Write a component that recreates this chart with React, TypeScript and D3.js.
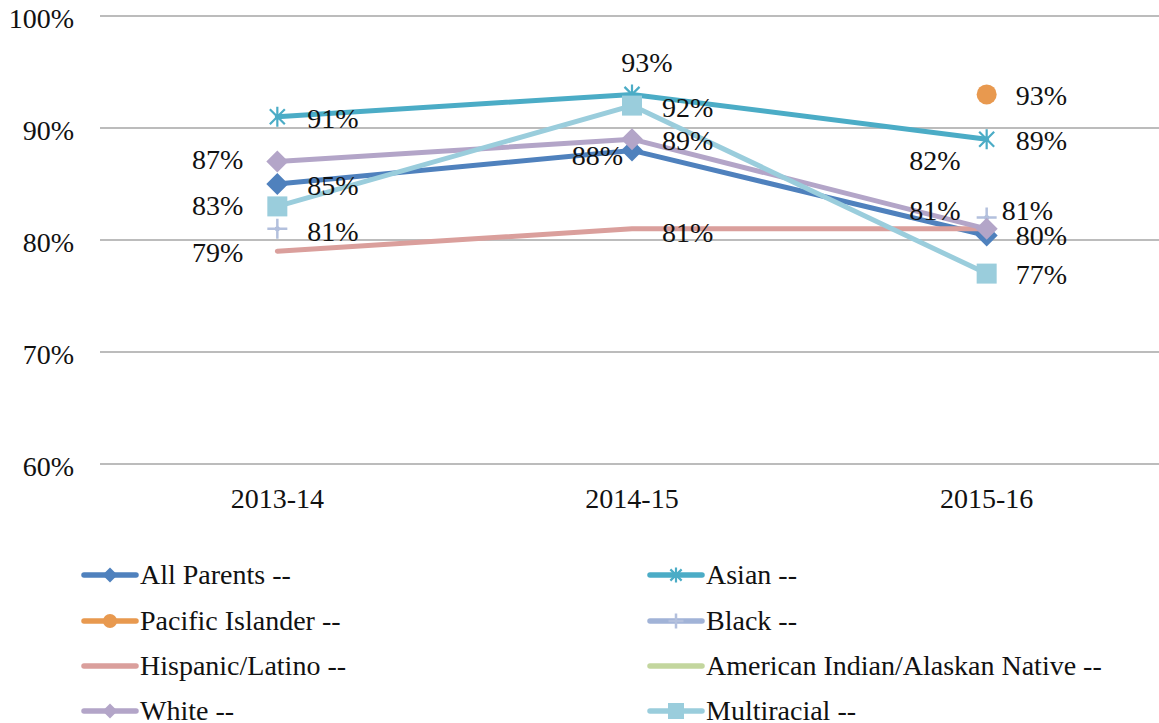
import React from "react";
import * as d3 from "d3";

// Chart data
const years = ["2013-14", "2014-15", "2015-16"];
const yTicks = [60, 70, 80, 90, 100];

const allParents = [85, 88, 80.4];
const asian = [91, 93, 89];
const pacificIslander = [null, null, 93];
const black = [81, null, 82];
const hispanic = [79, 81, 81];
const americanIndian = [null, null, null];
const white = [87, 89, 81];
const multiracial = [83, 92, 77];

type Marker = "diamond" | "asterisk" | "circle" | "plus" | "square" | "none";

// label offsets per point: [dx, dy, anchor]
type Place = [number, number, string] | null;

const series: {
  name: string;
  values: (number | null)[];
  color: string;
  markerColor: string;
  marker: Marker;
  places: Place[];
}[] = [
  {
    name: "All Parents --",
    values: allParents,
    color: "#4F81BD",
    markerColor: "#4F81BD",
    marker: "diamond",
    places: [[30, 11, "start"], [-9, 15, "end"], [29, 9, "start"]],
  },
  {
    name: "Asian --",
    values: asian,
    color: "#4BACC6",
    markerColor: "#4BACC6",
    marker: "asterisk",
    places: [[30, 11, "start"], [15, -22, "middle"], [29, 11, "start"]],
  },
  {
    name: "Pacific Islander --",
    values: pacificIslander,
    color: "#E8994F",
    markerColor: "#E8994F",
    marker: "circle",
    places: [null, null, [29, 11, "start"]],
  },
  {
    name: "Black --",
    values: black,
    color: "#A1B3D7",
    markerColor: "#B3C0DD",
    marker: "plus",
    places: [[30, 12, "start"], null, [-26, -48, "end"]],
  },
  {
    name: "Hispanic/Latino --",
    values: hispanic,
    color: "#DA9F9C",
    markerColor: "#DA9F9C",
    marker: "none",
    places: [[-34, 11, "end"], [30, 13, "start"], [15, -9, "start"]],
  },
  {
    name: "American Indian/Alaskan Native --",
    values: americanIndian,
    color: "#C3D69E",
    markerColor: "#C3D69E",
    marker: "none",
    places: [null, null, null],
  },
  {
    name: "White --",
    values: white,
    color: "#B3A5C8",
    markerColor: "#B3A5C8",
    marker: "diamond",
    places: [[-34, 7, "end"], [30, 11, "start"], [-26, -9, "end"]],
  },
  {
    name: "Multiracial --",
    values: multiracial,
    color: "#9ACDDC",
    markerColor: "#9ACDDC",
    marker: "square",
    places: [[-34, 9, "end"], [30, 11, "start"], [29, 10, "start"]],
  },
];

const width = 1159;
const height = 723;
const font = "Liberation Serif";
const fontSize = 28;

const x = d3.scalePoint<string>().domain(years).range([100, 1164]).padding(0.5);
const y = d3.scaleLinear().domain([60, 100]).range([464, 16]);
const pct = d3.format(".0f");

function MarkerShape({ kind, color, size }: { kind: Marker; color: string; size: number }) {
  const h = size / 2;
  if (kind === "diamond")
    return <path d={`M0,${-h}L${h},0L0,${h}L${-h},0Z`} fill={color} />;
  if (kind === "square")
    return <rect x={-h} y={-h} width={size} height={size} fill={color} />;
  if (kind === "circle") return <circle r={h} fill={color} />;
  if (kind === "plus")
    return (
      <path d={`M0,${-h}V${h}M${-h},0H${h}`} stroke={color} strokeWidth={2.5} fill="none" />
    );
  if (kind === "asterisk") {
    const d = h * 0.75;
    return (
      <path
        d={`M0,${-h}V${h}M${-d},${-d}L${d},${d}M${d},${-d}L${-d},${d}`}
        stroke={color}
        strokeWidth={2.2}
        fill="none"
      />
    );
  }
  return null;
}

const App = () => {
  const line = d3
    .line<number | null>()
    .defined((d) => d !== null)
    .x((_, i) => x(years[i]) as number)
    .y((d) => y(d as number));

  const legendRows = [575, 621, 666, 711];
  const legendCols = [82, 648];

  return (
    <svg
      width={width}
      height={height}
      style={{ position: "absolute", left: 0, top: 0, background: "#fff", fontFamily: font }}
    >
      {/* gridlines */}
      {yTicks.map((t) => (
        <g key={t}>
          <line x1={100} x2={width} y1={y(t)} y2={y(t)} stroke="#A6A6A6" strokeWidth={1.5} />
          <text x={74} y={y(t) + 12} textAnchor="end" fontSize={fontSize} fill="#111">
            {t}%
          </text>
        </g>
      ))}

      {/* x labels */}
      {years.map((yr) => (
        <text key={yr} x={x(yr)} y={508} textAnchor="middle" fontSize={fontSize} fill="#111">
          {yr}
        </text>
      ))}

      {/* series */}
      {series.map((s) => (
        <g key={s.name}>
          <path
            d={line(s.values) || ""}
            fill="none"
            stroke={s.color}
            strokeWidth={5}
            strokeLinejoin="round"
            strokeLinecap="round"
          />
          {s.values.map((v, i) =>
            v === null ? null : (
              <g key={i} transform={`translate(${x(years[i])},${y(v)})`}>
                <MarkerShape kind={s.marker} color={s.markerColor} size={s.marker === "diamond" ? 22 : 20} />
              </g>
            )
          )}
        </g>
      ))}

      {/* data labels */}
      {series.map((s) =>
        s.values.map((v, i) => {
          const p = s.places[i];
          if (v === null || !p) return null;
          return (
            <text
              key={s.name + i}
              x={(x(years[i]) as number) + p[0]}
              y={y(v) + p[1]}
              textAnchor={p[2] as any}
              fontSize={fontSize}
              fill="#111"
            >
              {pct(v)}%
            </text>
          );
        })
      )}

      {/* legend */}
      {series.map((s, i) => {
        const cx = legendCols[i % 2];
        const cy = legendRows[Math.floor(i / 2)];
        return (
          <g key={s.name} transform={`translate(${cx},${cy})`}>
            <line x1={2} x2={54} y1={0} y2={0} stroke={s.color} strokeWidth={5.5} strokeLinecap="round" />
            <g transform="translate(28,0)">
              <MarkerShape
                kind={s.marker}
                color={s.markerColor}
                size={s.marker === "square" ? 16 : s.marker === "circle" ? 14 : 15}
              />
            </g>
            <text x={58} y={9} fontSize={fontSize} fill="#111">
              {s.name}
            </text>
          </g>
        );
      })}
    </svg>
  );
};

export default App;
